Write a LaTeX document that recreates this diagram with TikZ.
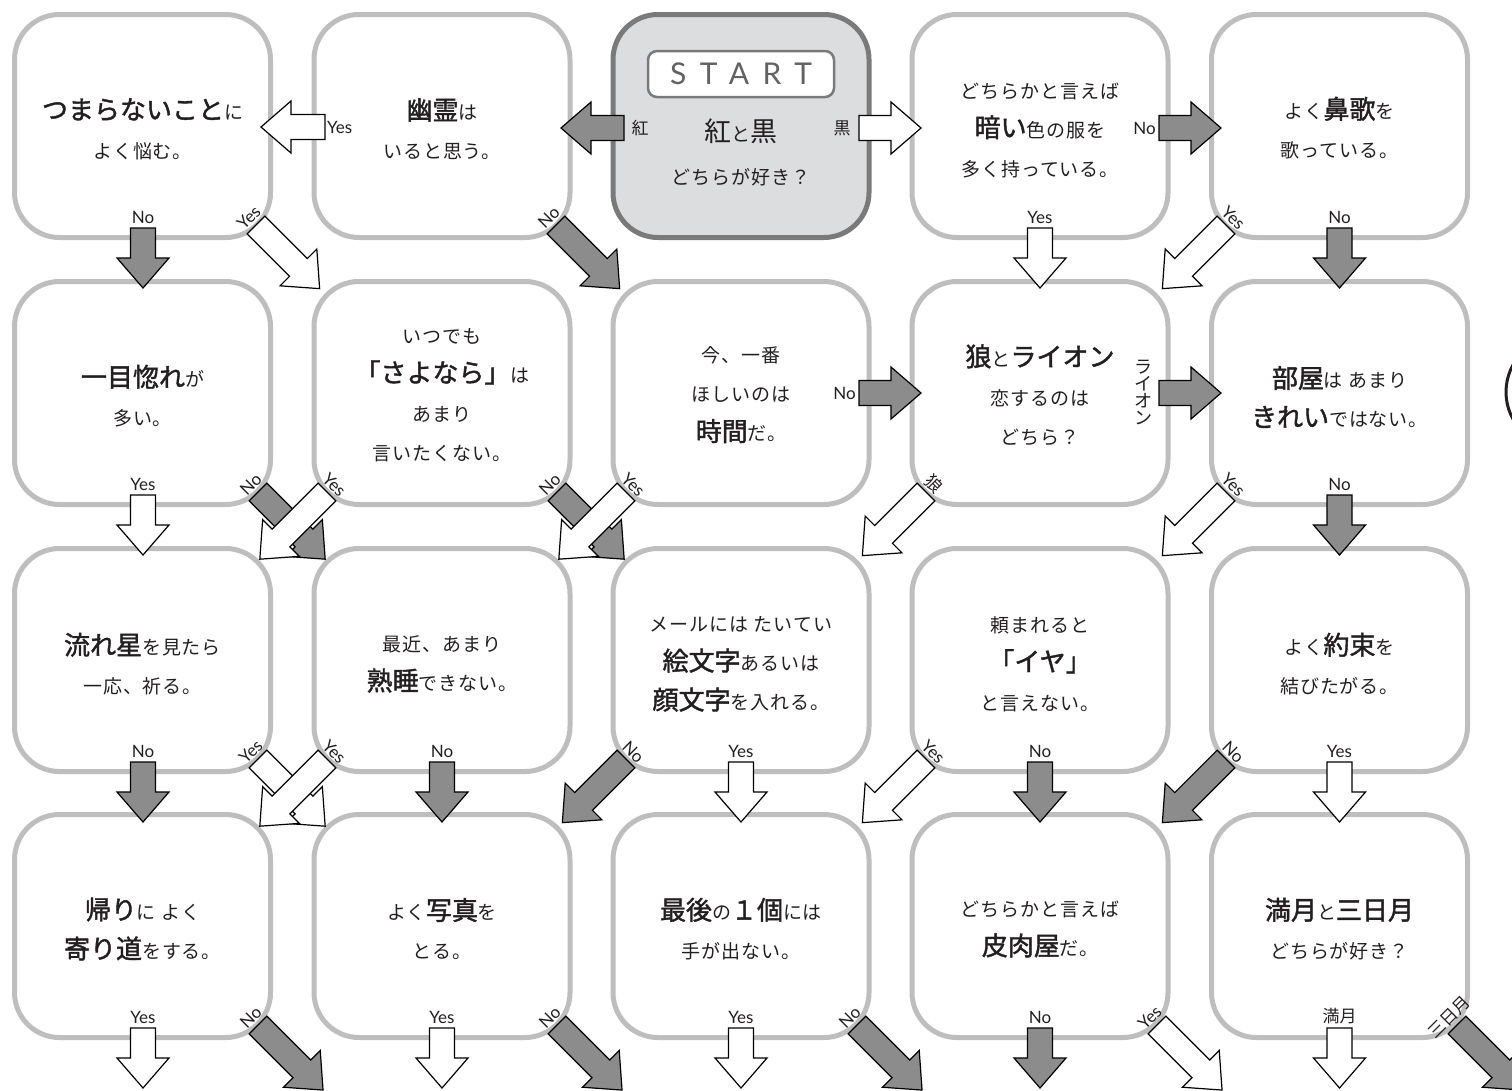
\documentclass[tikz,border=0pt]{standalone}
\usepackage{fontspec}
\usetikzlibrary{calc}
\newfontfamily\jp[LetterSpace=5]{Noto Sans CJK JP}
\newfontfamily\jpl{Noto Sans CJK JP}
\newfontfamily\jpb[FakeBold=1.6]{Noto Sans CJK JP}
\newfontfamily\lat{Lato}
\newfontfamily\latsp[LetterSpace=45]{Lato}
\newcommand\bw[1]{{\jpb\fontsize{26}{39}\selectfont #1}}
\newcommand\bn[1]{{\jpl\fontsize{27}{39}\selectfont #1}}
\definecolor{boxgray}{RGB}{190,190,190}
\definecolor{startfill}{RGB}{220,221,223}
\definecolor{startedge}{RGB}{122,122,122}
\definecolor{darkfill}{RGB}{140,140,140}
\definecolor{textc}{RGB}{35,31,32}
\tikzset{
  qbox/.style={draw=boxgray, line width=5pt, rounded corners=45pt, minimum width=256pt, minimum height=223pt, inner sep=0pt},
  qtext/.style={inner sep=0pt, align=center, font=\jp\fontsize{19}{39}\selectfont, text=textc},
  startbox/.style={qbox, draw=startedge, fill=startfill},
  darkarr/.style={draw=black, line width=1.2pt, fill=darkfill, line join=miter},
  whitearr/.style={draw=black, line width=1.2pt, fill=white, line join=miter},
  lab/.style={font=\lat\fontsize{17}{17}\selectfont, inner sep=0pt, text=textc},
  jlab/.style={font=\jpl\fontsize{17}{17}\selectfont, inner sep=0pt, text=textc},
}
% block arrow: name, style, tail x, tail y, angle, length
\newcommand{\barrow}[6]{%
  \begin{scope}[shift={(#3,#4)},rotate=#5]
    \draw[#2] (0,-12.5) -- ({#6-30},-12.5) -- ({#6-30},-26) -- (#6,0) -- ({#6-30},26) -- ({#6-30},12.5) -- (0,12.5) -- cycle;
    \coordinate (#1) at (0,0);
  \end{scope}}
% label behind the tail of an arrow
\newcommand{\alab}[4]{%
  \node[#3, rotate={#2+90}, anchor=south] (#1-l) at ($(#1)+({#2+180}:4pt)$) {#4};}
\newcommand{\arr}[8]{\barrow{#1}{#2}{#3}{#4}{#5}{#6}\alab{#1}{#5}{#7}{#8}}
\begin{document}
\begin{tikzpicture}[x=1pt,y=-1pt]
\useasboundingbox (0,0) rectangle (1512,1090);
\fill[white] (0,0) rectangle (1512,1090);
% partial circle at the right edge
\draw[line width=3pt, textc] (1562,392) circle (56pt);
% ---------- boxes ----------
\node[qbox] (b11) at (142.5,126) {};
\node[qbox] (b12) at (442,126) {};
\node[startbox] (b13) at (741,126) {};
\node[qbox] (b14) at (1040,126) {};
\node[qbox] (b15) at (1339.5,126) {};
\node[qbox] (b21) at (142.5,393) {};
\node[qbox] (b22) at (442,393) {};
\node[qbox] (b23) at (741,393) {};
\node[qbox] (b24) at (1040,393) {};
\node[qbox] (b25) at (1339.5,393) {};
\node[qbox] (b31) at (142.5,660) {};
\node[qbox] (b32) at (442,660) {};
\node[qbox] (b33) at (741,660) {};
\node[qbox] (b34) at (1040,660) {};
\node[qbox] (b35) at (1339.5,660) {};
\node[qbox] (b41) at (142.5,926) {};
\node[qbox] (b42) at (442,926) {};
\node[qbox] (b43) at (741,926) {};
\node[qbox] (b44) at (1040,926) {};
\node[qbox] (b45) at (1339.5,926) {};
% ---------- box texts ----------
\node[qtext] (t11) at ($(b11)+(0,3)$) {\bw{つまらないこと}に\\よく悩む。};
\node[qtext] (t12) at ($(b12)+(0,3)$) {\bw{幽霊}は\\いると思う。};
\node[draw=startedge, fill=white, line width=2.5pt, rounded corners=9pt, minimum width=186pt, minimum height=46pt, inner sep=0pt, text=startedge!80!black, font=\latsp\fontsize{30}{30}\selectfont] (st) at (741,74) {START};
\node[align=center, inner sep=0pt, text=textc, font=\jp\fontsize{19}{43}\selectfont] (stq) at (741,152) {\bn{紅}と\bn{黒}\\どちらが好き？};
\node[qtext] (t14) at ($(b14)+(0,4)$) {どちらかと言えば\\\bw{暗い}色の服を\\多く持っている。};
\node[qtext] (t15) at ($(b15)+(0,2)$) {よく\bw{鼻歌}を\\歌っている。};
\node[qtext] (t21) at ($(b21)+(0,3)$) {\bw{一目惚れ}が\\多い。};
\node[qtext] (t22) at ($(b22)+(0,2)$) {いつでも\\\bw{「さよなら」}は\\あまり\\言いたくない。};
\node[qtext] (t23) at ($(b23)+(0,2)$) {今、一番\\ほしいのは\\\bw{時間}だ。};
\node[qtext] (t24) at ($(b24)+(0,2)$) {\bw{狼}と\bw{ライオン}\\恋するのは\\どちら？};
\node[qtext] (t25) at ($(b25)+(0,4)$) {\bw{部屋}は あまり\\\bw{きれい}ではない。};
\node[qtext] (t31) at ($(b31)+(0,4)$) {\bw{流れ星}を見たら\\一応、祈る。};
\node[qtext] (t32) at ($(b32)+(0,4)$) {最近、あまり\\\bw{熟睡}できない。};
\node[qtext] (t33) at ($(b33)+(0,4)$) {メールには たいてい\\\bw{絵文字}あるいは\\\bw{顔文字}を入れる。};
\node[qtext] (t34) at ($(b34)+(0,4)$) {頼まれると\\\bw{「イヤ」}\\と言えない。};
\node[qtext] (t35) at ($(b35)+(0,4)$) {よく\bw{約束}を\\結びたがる。};
\node[qtext] (t41) at ($(b41)+(0,3)$) {\bw{帰り}に よく\\\bw{寄り道}をする。};
\node[qtext] (t42) at ($(b42)+(0,3)$) {よく\bw{写真}を\\とる。};
\node[qtext] (t43) at ($(b43)+(0,3)$) {\bw{最後}の\bw{１個}には\\手が出ない。};
\node[qtext] (t44) at ($(b44)+(0,3)$) {どちらかと言えば\\\bw{皮肉屋}だ。};
\node[qtext] (t45) at ($(b45)+(0,3)$) {\bw{満月}と\bw{三日月}\\どちらが好き？};
% ---------- row 1 arrows ----------
\barrow{h1}{darkarr}{624}{128}{180}{63}
\node[jlab] (h1-l) at (640,128) {紅};
\barrow{h2}{whitearr}{325}{127}{180}{64}
\node[lab, anchor=west] (h2-l) at (327,127) {Yes};
\barrow{h3}{whitearr}{859}{128}{0}{62}
\node[jlab] (h3-l) at (842,128) {黒};
\barrow{h4}{darkarr}{1159}{128}{0}{62}
\node[lab, anchor=east] (h4-l) at (1156,128) {No};
\arr{v11}{darkarr}{143}{228}{-90}{60}{lab}{No}
\arr{v14}{whitearr}{1040}{228}{-90}{60}{lab}{Yes}
\arr{v15}{darkarr}{1339.5}{228}{-90}{60}{lab}{No}
\arr{d11}{whitearr}{256}{225}{-45}{90}{lab}{Yes}
\arr{d12}{darkarr}{556}{225}{-45}{90}{lab}{No}
\arr{d15}{whitearr}{1226}{225}{-135}{90}{lab}{Yes}
% ---------- row 2 arrows ----------
\barrow{h5}{darkarr}{859}{393}{0}{62}
\node[lab, anchor=east] (h5-l) at (856,393) {No};
\barrow{h6}{darkarr}{1159}{393}{0}{62}
\node[jlab, align=center, font=\jpl\fontsize{18}{17}\selectfont] (h6-l) at (1143,392) {ラ\\イ\\オ\\ン};
\arr{v21}{whitearr}{143}{495}{-90}{60}{lab}{Yes}
\arr{v25}{darkarr}{1339.5}{495}{-90}{60}{lab}{No}
\arr{d21}{darkarr}{258}{492}{-45}{95}{lab}{No}
\arr{d22}{whitearr}{327}{492}{-135}{95}{lab}{Yes}
\arr{d22b}{darkarr}{557}{492}{-45}{95}{lab}{No}
\arr{d23}{whitearr}{626}{492}{-135}{95}{lab}{Yes}
\arr{d24}{whitearr}{926}{492}{-135}{90}{jlab}{狼}
\arr{d25}{whitearr}{1226}{492}{-135}{90}{lab}{Yes}
% ---------- row 3 arrows ----------
\arr{v31}{darkarr}{143}{762}{-90}{60}{lab}{No}
\arr{v32}{darkarr}{442}{762}{-90}{60}{lab}{No}
\arr{v33}{whitearr}{741}{762}{-90}{60}{lab}{Yes}
\arr{v34}{darkarr}{1040}{762}{-90}{60}{lab}{No}
\arr{v35}{whitearr}{1339.5}{762}{-90}{60}{lab}{Yes}
\arr{d31}{whitearr}{258}{759}{-45}{95}{lab}{Yes}
\arr{d32}{whitearr}{327}{759}{-135}{95}{lab}{Yes}
\arr{d33}{darkarr}{626}{759}{-135}{90}{lab}{No}
\arr{d34}{whitearr}{926}{759}{-135}{90}{lab}{Yes}
\arr{d35}{darkarr}{1226}{759}{-135}{90}{lab}{No}
% ---------- row 4 arrows ----------
\arr{v41}{whitearr}{143}{1028}{-90}{60}{lab}{Yes}
\arr{v42}{whitearr}{442}{1028}{-90}{60}{lab}{Yes}
\arr{v43}{whitearr}{741}{1028}{-90}{60}{lab}{Yes}
\arr{v44}{darkarr}{1040}{1028}{-90}{60}{lab}{No}
\arr{v45}{whitearr}{1339.5}{1028}{-90}{60}{jlab}{満月}
\arr{d41}{darkarr}{258}{1025}{-45}{92}{lab}{No}
\arr{d42}{darkarr}{557}{1025}{-45}{92}{lab}{No}
\arr{d43}{darkarr}{857}{1025}{-45}{92}{lab}{No}
\arr{d44}{whitearr}{1157}{1025}{-45}{92}{lab}{Yes}
\arr{d45}{darkarr}{1457}{1025}{-45}{92}{jlab}{三日月}
\end{tikzpicture}
\end{document}
